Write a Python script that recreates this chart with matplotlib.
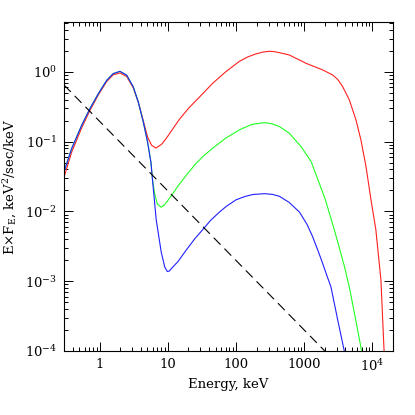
import matplotlib
matplotlib.use("Agg")
import matplotlib.pyplot as plt
from matplotlib.ticker import LogLocator, FixedLocator, FixedFormatter, NullFormatter

plt.rcParams['font.family'] = ['DejaVu Serif']
plt.rcParams['mathtext.fontset'] = 'dejavuserif'
plt.rcParams['lines.scale_dashes'] = False

# Energy (keV) and E*F_E values
E_red = [0.3, 0.389, 0.545, 0.72, 0.957, 1.27, 1.58, 1.98, 2.49, 3.11, 3.68, 4.36, 5.04,
         5.77, 6.67, 8.1, 9.5, 11.1, 14.8, 20, 26, 45.6, 70, 112, 150, 197, 250, 309, 370,
         432, 604, 1060, 1860, 2600, 3100, 3640, 4570, 5730, 6770, 8040, 9510, 11200,
         13300, 14800]
F_red = [0.031, 0.071, 0.158, 0.28, 0.47, 0.73, 0.91, 0.967, 0.86, 0.59, 0.37, 0.2, 0.117,
         0.089, 0.081, 0.092, 0.112, 0.14, 0.21, 0.30, 0.39, 0.69, 1.0, 1.42, 1.65, 1.82,
         1.93, 1.98, 1.95, 1.89, 1.75, 1.33, 1.07, 0.906, 0.78, 0.62, 0.40, 0.205, 0.106,
         0.044, 0.0147, 0.0055, 0.00105, 0.0001]

E_green = [0.3, 0.389, 0.545, 0.72, 0.957, 1.27, 1.58, 1.98, 2.49, 3.11, 3.68, 4.36, 5.04,
           5.65, 6.0, 6.4, 7.0, 8.0, 9.0, 11.8, 14, 18.6, 25, 33, 45.6, 70, 112, 170, 260,
           340, 432, 604, 897, 1260, 1660, 2040, 2330, 2800, 3240, 3900, 4570, 5500, 6750,
           6900]
F_green = [0.037, 0.080, 0.172, 0.298, 0.489, 0.76, 0.946, 1.02, 0.90, 0.61, 0.372, 0.192,
           0.099, 0.051, 0.027, 0.018, 0.0128, 0.0115, 0.0125, 0.018, 0.023, 0.033, 0.047,
           0.062, 0.081, 0.112, 0.148, 0.177, 0.188, 0.18, 0.165, 0.132, 0.085, 0.052,
           0.0254, 0.0147, 0.0095, 0.0052, 0.0031, 0.0016, 0.00083, 0.00033, 0.000115,
           0.0001]

E_blue = [0.3, 0.389, 0.545, 0.72, 0.957, 1.27, 1.58, 1.98, 2.49, 3.11, 3.68, 4.36, 5.04,
          5.65, 6.0, 6.75, 8.0, 9.0, 9.8, 10.5, 11.8, 14, 18.6, 25, 32.5, 42, 57, 71.6, 100,
          135, 176, 260, 340, 432, 600, 850, 1100, 1320, 1600, 1860, 2150, 2460, 3090, 3860]
F_blue = [0.037, 0.080, 0.172, 0.298, 0.489, 0.76, 0.946, 1.02, 0.90, 0.61, 0.372, 0.192,
          0.099, 0.05, 0.026, 0.0076, 0.0026, 0.0016, 0.00138, 0.0014, 0.0016, 0.0019,
          0.0028, 0.0041, 0.0055, 0.0074, 0.0098, 0.0118, 0.0147, 0.0164, 0.0175, 0.018,
          0.0176, 0.0165, 0.0135, 0.0098, 0.0065, 0.0044, 0.0027, 0.0018, 0.0012, 0.00083,
          0.00028, 0.0001]

E_dash = [0.3, 2000]
F_dash = [0.65, 0.0001]

xticks = [1, 10, 100, 1000, 10000]
xticklabels = ['1', '10', '100', '1000', r'$10^4$']
yticks = [1e-4, 1e-3, 1e-2, 1e-1, 1e0]
yticklabels = [r'$10^{-4}$', r'$10^{-3}$', r'$10^{-2}$', r'$10^{-1}$', r'$10^{0}$']

fig = plt.figure(figsize=(4.15, 4.15), dpi=100)
ax = fig.add_axes([64/415, 1-351/415, (393-64)/415, (351-22)/415])

lw = 0.8
ax.plot(E_red, F_red, color='#ff2020', lw=lw)
ax.plot(E_green, F_green, color='#20ff20', lw=lw)
ax.plot(E_blue, F_blue, color='#2020ff', lw=lw)
ax.plot(E_dash, F_dash, color='black', lw=lw, dashes=(7, 4))

ax.set_xscale('log')
ax.set_yscale('log')
ax.set_xlim(0.3, 2e4)
ax.set_ylim(1e-4, 5.2)

ax.xaxis.set_major_locator(FixedLocator(xticks))
ax.xaxis.set_major_formatter(FixedFormatter(xticklabels))
ax.xaxis.set_minor_locator(LogLocator(base=10, subs=range(2, 10), numticks=20))
ax.xaxis.set_minor_formatter(NullFormatter())
ax.yaxis.set_major_locator(FixedLocator(yticks))
ax.yaxis.set_major_formatter(FixedFormatter(yticklabels))
ax.yaxis.set_minor_locator(LogLocator(base=10, subs=range(2, 10), numticks=20))
ax.yaxis.set_minor_formatter(NullFormatter())

ax.tick_params(which='both', direction='in', top=True, right=True, width=0.7, labelsize=9.5)
ax.tick_params(which='major', length=6.5, pad=5)
ax.tick_params(which='minor', length=3.2)
for s in ax.spines.values():
    s.set_linewidth(0.8)

ax.set_xlabel('Energy, keV', fontsize=9.5, labelpad=3)
ax.set_ylabel(r'E$\times$F$_{\mathrm{E}}$, keV$^2$/sec/keV', fontsize=9.5, labelpad=4)

fig.savefig('out.png', dpi=100)
